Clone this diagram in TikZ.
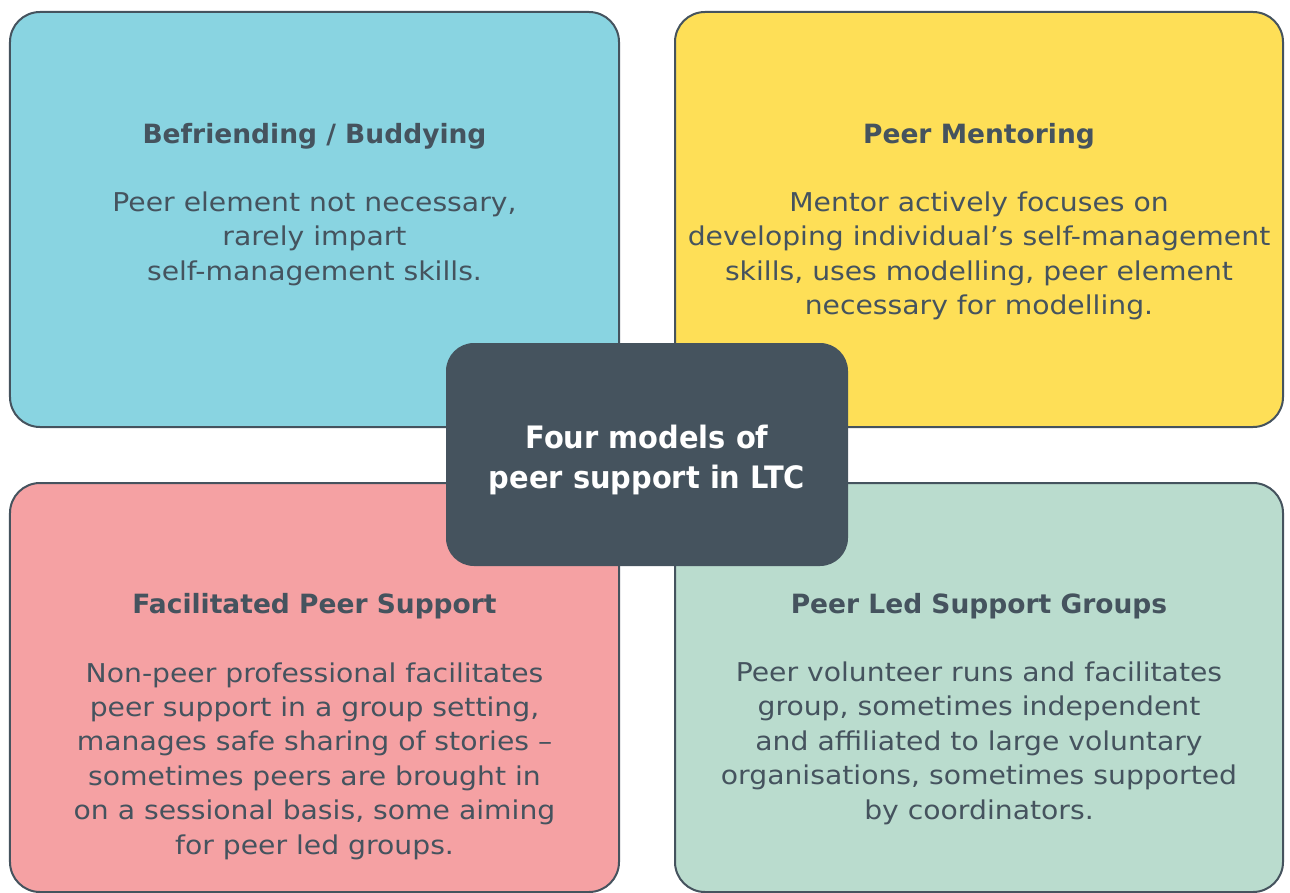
\documentclass[tikz,border=0pt]{standalone}
\usepackage{fontspec}
\setmainfont{DejaVu Sans}
\newfontfamily\bodyfont{DejaVu Sans}[FakeStretch=1.09]
\newfontfamily\hubfont{DejaVu Sans Bold}[FakeStretch=0.935]
\definecolor{ink}{HTML}{45535E}
\definecolor{cblue}{HTML}{89D4E1}
\definecolor{cyellow}{HTML}{FEDF57}
\definecolor{cpink}{HTML}{F5A1A3}
\definecolor{cgreen}{HTML}{BADCCE}
\begin{document}
\begin{tikzpicture}[x=1bp,y=-1bp]
\tikzset{
  quad/.style={draw=ink, line width=2bp, rounded corners=30bp, inner sep=0pt},
  hub/.style={fill=ink, rounded corners=28bp, minimum width=402bp, minimum height=223bp, inner sep=0pt},
  hubtext/.style={text=white, align=center, font=\hubfont\fontsize{31}{40}\selectfont, inner sep=0pt, anchor=base},
  ttl/.style={text=ink, font=\fontsize{26.6}{35}\selectfont\bfseries, inner sep=0pt, anchor=base},
  body/.style={text=ink, align=center, font=\bodyfont\fontsize{26}{34.5}\selectfont, inner sep=0pt, anchor=base}
}
\useasboundingbox (0,0) rectangle (1290,893);
\node[quad, fill=cblue, minimum width=609bp, minimum height=415bp] (q1) at (314.5,219.5) {};
\node[quad, fill=cyellow, minimum width=608bp, minimum height=415bp] (q2) at (979,219.5) {};
\node[quad, fill=cpink, minimum width=609bp, minimum height=409bp] (q3) at (314.5,687.5) {};
\node[quad, fill=cgreen, minimum width=608bp, minimum height=409bp] (q4) at (979,687.5) {};
\node[hub] (hub) at (647,454.5) {};
\node[hubtext] (hubt) at (647,488) {Four models of\\peer support in LTC};
\node[ttl] (t1) at (314.5,143) {Befriending / Buddying};
\node[ttl] (t2) at (979,143) {Peer Mentoring};
\node[ttl] (t3) at (314.5,613) {Facilitated Peer Support};
\node[ttl] (t4) at (979,613) {Peer Led Support Groups};
\node[body] (b1) at (314.5,280) {Peer element not necessary,\\rarely impart\\self-management skills.};
\node[body] (b2) at (979,314.5) {Mentor actively focuses on\\developing individual’s self-management\\skills, uses modelling, peer element\\necessary for modelling.};
\node[body] (b3) at (314.5,854) {Non-peer professional facilitates\\peer support in a group setting,\\manages safe sharing of stories –\\sometimes peers are brought in\\on a sessional basis, some aiming\\for peer led groups.};
\node[body] (b4) at (979,819) {Peer volunteer runs and facilitates\\group, sometimes independent\\and affiliated to large voluntary\\organisations, sometimes supported\\by coordinators.};
\end{tikzpicture}
\end{document}
